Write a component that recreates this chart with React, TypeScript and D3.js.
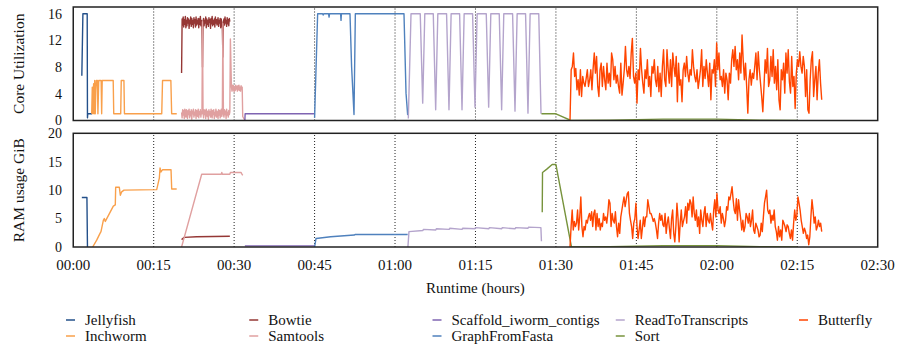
import { useEffect } from 'react';
import * as d3 from 'd3';

type Pt = [number, number];

// ─────────────────────────────────────────────────────────────────────────────
// Axis data
// ─────────────────────────────────────────────────────────────────────────────

const X_TICKS = [0, 15, 30, 45, 60, 75, 90, 105, 120, 135, 150];
const X_TICK_LABELS = [
  '00:00', '00:15', '00:30', '00:45', '01:00', '01:15',
  '01:30', '01:45', '02:00', '02:15', '02:30',
];
const GRID_MINUTES = [15, 30, 45, 60, 75, 90, 105, 120, 135];
const CORE_TICKS = [0, 4, 8, 12, 16];
const RAM_TICKS = [0, 5, 10, 15, 20];

const SERIES_NAMES = [
  'Jellyfish', 'Inchworm', 'Bowtie', 'Samtools', 'Scaffold_iworm_contigs',
  'GraphFromFasta', 'ReadToTranscripts', 'Sort', 'Butterfly',
];
const SERIES_COLORS = [
  '#23508a', '#f9a04b', '#953735', '#e0a0a0', '#7f64b2',
  '#4f81bd', '#b4a4cc', '#77933c', '#ff4500',
];

// ─────────────────────────────────────────────────────────────────────────────
// Series (minutes, value)
// ─────────────────────────────────────────────────────────────────────────────

const JELLYFISH_CORE: Pt[] = [[1.6, 6.7], [1.8, 16], [2.6, 16], [2.65, 0.4], [2.7, 1], [3.5, 1]];
const JELLYFISH_RAM: Pt[] = [[1.6, 8.7], [2.55, 8.7], [2.65, 0]];

const INCHWORM_CORE: Pt[] = [
  [3.44, 1], [3.55, 5], [3.65, 1], [3.8, 5.5], [3.9, 1], [4.0, 6], [4.1, 1], [4.2, 4.5],
  [4.3, 6], [4.5, 6], [4.6, 1], [4.75, 6], [5.2, 6], [5.3, 1], [5.4, 6], [7.45, 6],
  [7.55, 1], [8.85, 1], [8.95, 6], [9.45, 6], [9.55, 1], [16.5, 1], [16.65, 6],
  [18.2, 6], [18.35, 1], [19.3, 1],
];
const INCHWORM_RAM: Pt[] = [
  [3.62, 0], [4.37, 1.2], [4.99, 2.4], [5.17, 2.7], [5.61, 4.7], [5.79, 5.0], [5.98, 4.5],
  [7.47, 7.2], [7.84, 7.4], [7.91, 10.5], [8.59, 10.5], [8.78, 9.1], [9.03, 9.7],
  [9.46, 10.0], [15.56, 10.1], [16.05, 12.1], [16.18, 13.9], [16.36, 13.2], [16.67, 13.6],
  [18.23, 13.6], [18.36, 10.2], [19.29, 10.2],
];

// sampled every 0.1 min from 20.2
const BOWTIE_CORE_START = 20.2;
const BOWTIE_CORE = [
  7.1, 15.2,
  14.3, 15.5, 14.0, 15.1, 14.4, 15.6, 13.9, 15.0, 14.2, 15.4, 14.6, 15.2, 13.8, 15.0, 14.5, 15.5,
  14.1, 15.3, 14.4, 15.0, 13.9, 15.4, 14.6, 15.1, 14.0, 15.5, 14.3, 15.0, 14.5, 15.3, 13.9, 15.2,
  14.4, 15.6, 14.2, 15.0,
  14.5, 8.0, 14.8,
  15.3, 14.2, 15.0, 14.6, 15.5, 13.9, 15.2, 14.4, 15.0, 14.1, 15.4, 14.7, 15.1, 13.8, 15.3, 14.5,
  15.6, 14.2, 15.0, 14.4, 15.2, 14.0, 15.5, 14.6, 15.1, 14.3, 14.9, 15.4, 14.1, 15.0, 14.6, 15.3,
  13.9, 15.2, 14.5,
  14.0, 9.5, 14.8,
  15.2, 14.3, 15.5, 14.6, 15.0, 14.1, 15.4, 14.5, 15.1, 14.2, 15.3, 14.8,
];
const BOWTIE_RAM: Pt[] = [[20.2, 1.3], [20.7, 1.7], [23, 1.8], [29.2, 1.9]];

const SAMTOOLS_CORE_START = 20.2;
const SAMTOOLS_CORE_BAND = [
  1.2, 0.4, 1.6, 0.8, 1.5, 0.3, 1.7, 1.0, 0.5, 1.6, 1.1, 0.3, 1.5, 0.9, 1.7, 0.4, 1.3, 0.7, 1.6, 0.2,
  1.4, 1.0, 1.7, 0.5, 1.2, 0.8, 1.6, 0.3, 1.5, 1.1, 0.6, 1.7, 0.4, 1.3, 0.9, 1.6, 0.5, 1.4, 1.0,
  14.8, 1.2,
  0.4, 1.6, 0.9, 1.5, 0.3, 1.7, 1.1, 0.6, 1.4, 0.2, 1.6, 0.8, 1.3, 0.5, 1.7, 1.0, 0.4, 1.5, 0.9, 1.6,
  0.3, 1.2, 0.7, 1.7, 0.5, 1.4, 1.0, 0.3, 1.6, 0.8, 1.5, 0.4, 1.2, 1.7, 0.6, 1.3,
  14.5, 1.0,
  0.5, 1.6, 0.9, 1.4, 0.3, 1.7, 0.8, 1.2, 0.5, 1.5, 0.9, 1.3,
];
const SAMTOOLS_CORE_TAIL: Pt[] = [
  [29.3, 12.2], [29.5, 5.0], [29.6, 4.4], [29.7, 5.3], [29.8, 4.6], [29.9, 5.2], [30.0, 4.3],
  [30.1, 5.0], [30.2, 4.5], [30.3, 5.3], [30.4, 4.7], [30.5, 5.1], [30.6, 4.4], [30.7, 5.2],
  [30.8, 4.6], [30.9, 5.3], [31.0, 4.5], [31.1, 5.0], [31.2, 4.4], [31.3, 5.2], [31.4, 4.7],
  [31.5, 5.0], [31.6, 0.6], [32.0, 0],
];
const SAMTOOLS_RAM: Pt[] = [
  [20.2, 0], [23.95, 12.8], [27.6, 12.8], [27.7, 13.1], [27.8, 12.8], [29.2, 12.8],
  [29.3, 13.1], [31.3, 13.1], [31.4, 12.9], [31.6, 12.6],
];

const SCAFFOLD_CORE: Pt[] = [[32.0, 0], [32.05, 1], [45.05, 1]];
const SCAFFOLD_RAM: Pt[] = [[32.0, 0.2], [45.05, 0.2]];

const GRAPH_CORE: Pt[] = [
  [45.0, 0.4], [45.57, 16], [46.5, 16], [46.6, 15.8], [46.7, 16], [47.6, 16], [47.7, 15.5],
  [47.8, 16], [49.85, 16], [49.93, 15.0], [50.0, 16], [51.6, 16], [51.9, 8.1], [52.35, 0.9],
  [52.6, 16], [61.67, 16], [62.05, 4.1], [62.36, 0.8],
];
const GRAPH_RAM: Pt[] = [[45.0, 0], [45.27, 1.5], [48, 1.8], [52.4, 2.1], [52.6, 2.2], [62.36, 2.2]];

const READ_CORE: Pt[] = [
  [62.48, 0.3], [62.98, 16],
  [64.7, 16], [65.16, 2.6], [65.55, 16],
  [67.13, 16], [67.58, 1.6], [67.98, 16],
  [69.61, 16], [70.06, 1.6], [70.46, 16],
  [72.04, 16], [72.49, 1.6], [72.89, 16],
  [74.46, 16], [74.91, 2.0], [75.31, 16],
  [77.01, 16], [77.46, 2.0], [77.86, 16],
  [79.43, 16], [79.88, 1.6], [80.28, 16],
  [81.92, 16], [82.37, 1.4], [82.77, 16],
  [84.34, 16], [84.79, 1.1], [85.19, 16],
  [86.8, 16], [87.22, 1.0],
];
const READ_RAM: Pt[] = [
  [62.4, 0], [62.6, 2.7], [65.2, 2.9], [65.3, 3.1], [67.6, 3.0], [67.7, 3.2], [70.1, 3.1],
  [70.2, 3.3], [72.5, 3.1], [72.6, 3.3], [74.9, 3.2], [75.0, 3.4], [77.5, 3.2], [77.6, 3.4],
  [79.9, 3.2], [80.0, 3.4], [82.4, 3.2], [82.5, 3.4], [84.8, 3.3], [84.9, 3.5], [87.2, 3.4],
  [87.3, 1.0],
];

const SORT_CORE: Pt[] = [
  [87.3, 1.0], [90.0, 1.0], [92.8, 0], [100, 0.05], [110, 0.2], [120, 0.2], [128, 0.05], [135, 0],
];
const SORT_RAM: Pt[] = [
  [87.45, 6.1], [87.5, 13.1], [88.3, 13.7], [89.3, 14.5], [90.0, 14.5], [92.9, 0],
  [100, 0.05], [110, 0.25], [120, 0.25], [128, 0.05], [135, 0],
];

// evenly spread between start and end
const BUTTERFLY_START = 92.63;
const BUTTERFLY_END = 139.56;
const BUTTERFLY_CORE = [
  0.1, 7.6, 8.1, 10.1, 6.6, 7.8, 4.6, 6.1, 3.8, 7.6,
  3.6, 6.6, 5.6, 5.1, 6.3, 7.6, 5.1, 6.1, 7.6, 4.6,
  7.8, 10.1, 7.1, 9.6, 5.1, 3.6, 7.6, 8.6, 5.1, 8.1,
  6.1, 4.6, 8.6, 5.6, 7.1, 5.1, 10.1, 9.1, 6.1, 8.1,
  5.6, 6.8, 5.1, 4.1, 8.6, 3.8, 5.6, 7.6, 11.1, 7.6,
  6.6, 8.1, 6.3, 10.1, 12.3, 6.6, 5.6, 7.1, 2.6, 7.6,
  6.1, 10.8, 7.6, 5.6, 4.1, 7.6, 6.3, 9.1, 5.1, 6.6,
  3.6, 8.1, 7.1, 9.1, 6.1, 5.1, 8.1, 4.3, 7.1, 3.6,
  8.1, 10.6, 6.1, 5.1, 10.6, 7.6, 5.6, 9.1, 5.1, 10.1,
  8.1, 6.6, 9.6, 2.8, 8.6, 5.3, 6.1, 2.8, 7.6, 8.6,
  6.6, 9.6, 7.1, 5.8, 7.6, 6.8, 10.6, 8.1, 6.6, 5.8,
  7.6, 4.8,
  6.1, 7.6, 10.6, 5.1, 8.1, 6.3, 9.1, 7.1, 5.1, 8.6,
  3.1, 7.6, 7.1, 9.1, 5.1, 11.6, 7.6, 10.1, 6.1, 6.6,
  5.1, 7.6, 4.1, 7.1, 6.1, 3.1, 7.1, 5.6, 9.1, 10.6,
  8.1, 11.1, 7.6, 9.1, 6.1, 10.1, 7.1, 12.8, 9.1, 6.1,
  8.6, 5.1, 1.1, 6.1, 7.6, 5.3, 7.1, 6.3, 8.1, 10.1,
  6.1, 10.3, 7.6, 5.6, 3.6, 1.3, 5.1, 9.1, 7.1, 10.8,
  5.1, 6.1, 9.6, 6.6, 10.6, 5.6, 8.1, 4.6, 9.1, 3.1,
  1.6, 7.6, 6.1, 8.6, 4.1, 10.1, 7.1, 10.6, 5.8, 4.1,
  9.6, 5.1, 6.6, 1.8, 7.1, 9.1, 8.1, 10.3, 8.1, 7.1,
  9.6, 8.1, 3.6, 7.6, 1.6, 1.1, 6.1, 9.1, 10.3, 3.6,
  6.1, 8.1, 3.1, 7.1, 9.1, 5.6, 3.1,
];
const BUTTERFLY_RAM = [
  0, 3.6, 6.5, 3.0, 4.5, 3.6, 4.2, 6.5, 3.0, 5.3,
  8.8, 3.6, 1.8, 3.6, 3.0, 4.7, 4.2, 5.3, 5.9, 4.7,
  6.2, 3.6, 5.9, 6.5, 3.0, 5.9, 3.6, 5.0, 3.0, 4.2,
  3.6, 5.9, 4.7, 5.3, 4.2, 5.9, 8.3, 7.7, 3.6, 5.9,
  4.7, 4.2, 6.2, 3.6, 1.8, 4.2, 2.4, 5.3, 6.5, 7.7,
  8.8, 7.1, 8.3, 9.4, 9.7, 5.9, 4.7, 3.6, 1.5, 4.2,
  5.0, 7.7, 3.6, 1.5, 3.0, 4.7, 1.5, 3.3, 5.3, 3.6,
  5.3, 5.3, 8.3, 7.1, 5.9, 5.9, 5.3, 4.5, 5.0, 4.2,
  3.0, 1.5, 4.2, 5.9, 4.7, 5.6, 3.9, 3.6, 5.9, 2.4,
  4.2, 5.3, 3.3, 1.5, 5.0, 6.5, 2.4, 0.9, 3.6, 7.7,
  5.0, 0.9, 4.2, 6.5, 3.6, 4.5, 5.3, 7.1, 4.2, 7.7,
  6.5, 8.3, 7.7, 5.3, 8.8, 5.9, 4.7,
  6.5, 3.6, 5.3, 2.4, 6.5, 4.7, 3.6, 5.9, 7.1, 3.6,
  5.9, 4.7, 4.2, 5.9, 4.2, 3.0, 6.5, 8.3, 5.3, 9.4,
  6.5, 5.9, 7.1, 4.2, 5.9, 5.0, 3.6, 4.7, 7.1, 6.5,
  8.8, 8.3, 9.4, 10.6, 8.3, 6.5, 5.9, 8.5, 4.7, 8.3,
  6.5, 5.0, 3.0, 4.7, 2.7, 3.6, 5.9, 5.3, 4.2, 5.9,
  3.6, 4.7, 6.5, 3.0, 2.4, 4.2, 3.6, 3.0, 1.8, 2.1,
  4.2, 2.7, 5.3, 7.7, 8.8, 10.0, 6.5, 5.9, 6.5, 4.2,
  5.6, 4.7, 6.5, 3.6, 2.7, 1.2, 3.6, 1.8, 3.0, 1.2,
  4.7, 4.2, 3.6, 2.7, 3.9, 3.6, 2.4, 1.5, 3.0, 1.2,
  4.2, 6.5, 4.7, 5.6, 8.8, 7.7, 6.5, 4.7, 3.6, 2.4,
  3.3, 2.7, 1.5, 2.1, 0.4, 1.8, 5.3, 8.3, 6.5, 4.2,
  5.3, 3.0, 3.6, 4.7, 3.6, 4.2, 2.7,
];

const sampled = (t0: number, dt: number, vals: number[]): Pt[] =>
  vals.map((v, i) => [t0 + i * dt, v]);
const spread = (t0: number, t1: number, vals: number[]): Pt[] =>
  sampled(t0, (t1 - t0) / (vals.length - 1), vals);

const CORE_SERIES: Pt[][] = [
  JELLYFISH_CORE,
  INCHWORM_CORE,
  sampled(BOWTIE_CORE_START, 0.1, BOWTIE_CORE),
  [...sampled(SAMTOOLS_CORE_START, 0.1, SAMTOOLS_CORE_BAND), ...SAMTOOLS_CORE_TAIL],
  SCAFFOLD_CORE,
  GRAPH_CORE,
  READ_CORE,
  SORT_CORE,
  spread(BUTTERFLY_START, BUTTERFLY_END, BUTTERFLY_CORE),
];
const RAM_SERIES: Pt[][] = [
  JELLYFISH_RAM, INCHWORM_RAM, BOWTIE_RAM, SAMTOOLS_RAM, SCAFFOLD_RAM,
  GRAPH_RAM, READ_RAM, SORT_RAM,
  spread(BUTTERFLY_START, BUTTERFLY_END, BUTTERFLY_RAM),
];

// ─────────────────────────────────────────────────────────────────────────────
// Component
// ─────────────────────────────────────────────────────────────────────────────

const FONT = '"Liberation Serif", "Times New Roman", serif';

export default function App() {
  useEffect(() => {
    document.body.style.margin = '0';
  }, []);

  const width = 898;
  const height = 345;
  const left = 73.25;
  const right = 877.7;

  const x = d3.scaleLinear().domain([0, 150]).range([left, right]);
  const yCore = d3.scaleLinear().domain([0, 17]).range([120.5, 7]);
  const yRam = d3.scaleLinear().domain([0, 20]).range([247, 133.3]);

  const panels = [
    { id: 'core', y: yCore, ticks: CORE_TICKS, series: CORE_SERIES, label: 'Core Utilization' },
    { id: 'ram', y: yRam, ticks: RAM_TICKS, series: RAM_SERIES, label: 'RAM usage GiB' },
  ];

  const legendX = d3.scaleLinear().domain([0, 4]).range([85, 818]);
  const legendY = [324.5, 340.5];

  return (
    <svg width={width} height={height} style={{ display: 'block', fontFamily: FONT }}>
      <rect width={width} height={height} fill='#fff' />
      {panels.map((p) => {
        const [y0, y1] = p.y.range();
        const line = d3
          .line<Pt>()
          .x((d) => x(d[0]))
          .y((d) => p.y(d[1]));
        return (
          <g key={p.id}>
            <defs>
              <clipPath id={`clip-${p.id}`}>
                <rect x={left} y={y1} width={right - left} height={y0 - y1} />
              </clipPath>
            </defs>
            {GRID_MINUTES.map((m) => (
              <line
                key={m}
                x1={x(m)}
                x2={x(m)}
                y1={y0}
                y2={y1}
                stroke='#222'
                strokeWidth={1}
                strokeDasharray='1,2'
              />
            ))}
            <g clipPath={`url(#clip-${p.id})`}>
              {p.series.map((s, i) => (
                <path
                  key={i}
                  d={line(s) ?? ''}
                  fill='none'
                  stroke={SERIES_COLORS[i]}
                  strokeWidth={1.4}
                  strokeLinejoin='round'
                />
              ))}
            </g>
            <rect
              x={left}
              y={y1}
              width={right - left}
              height={y0 - y1}
              fill='none'
              stroke='#222'
              strokeWidth={1.5}
            />
            {p.ticks.map((t) => (
              <text
                key={t}
                x={62}
                y={p.y(t)}
                dy='0.35em'
                textAnchor='end'
                fontSize={14}
                fill='#111'
              >
                {t}
              </text>
            ))}
            <text
              transform={`translate(24,${(y0 + y1) / 2}) rotate(-90)`}
              textAnchor='middle'
              fontSize={15.5}
              fill='#111'
            >
              {p.label}
            </text>
          </g>
        );
      })}

      {X_TICKS.map((m, i) => (
        <text key={m} x={x(m)} y={270} textAnchor='middle' fontSize={15} fill='#111'>
          {X_TICK_LABELS[i]}
        </text>
      ))}
      <text x={(left + right) / 2} y={293} textAnchor='middle' fontSize={15} fill='#111'>
        Runtime (hours)
      </text>

      {SERIES_NAMES.map((name, i) => {
        const col = Math.floor(i / 2);
        const row = i % 2;
        const tx = legendX(col);
        const ty = legendY[row];
        return (
          <g key={name}>
            <line
              x1={tx - 19}
              x2={tx - 10}
              y1={ty - 4.5}
              y2={ty - 4.5}
              stroke={SERIES_COLORS[i]}
              strokeWidth={1.5}
            />
            <text x={tx} y={ty} fontSize={15} fill='#111'>
              {name}
            </text>
          </g>
        );
      })}
    </svg>
  );
}
